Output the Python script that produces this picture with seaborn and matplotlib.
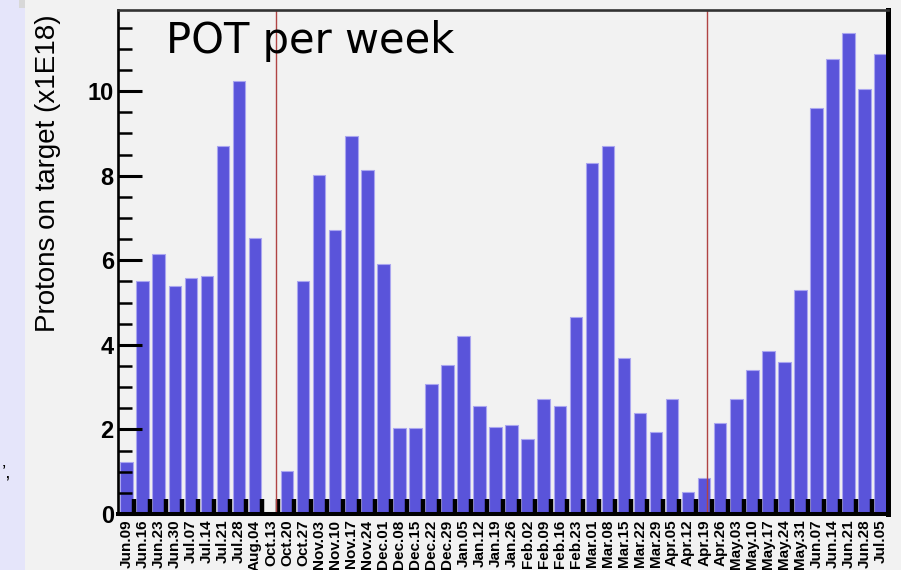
import matplotlib
matplotlib.use("Agg")
import matplotlib.pyplot as plt
from matplotlib.patches import Rectangle
import numpy as np
import pandas as pd
import seaborn as sns

# weekly protons on target
weeks = ["Jun.09", "Jun.16", "Jun.23", "Jun.30", "Jul.07", "Jul.14", "Jul.21", "Jul.28",
         "Aug.04", "Oct.13", "Oct.20", "Oct.27", "Nov.03", "Nov.10", "Nov.17", "Nov.24",
         "Dec.01", "Dec.08", "Dec.15", "Dec.22", "Dec.29", "Jan.05", "Jan.12", "Jan.19",
         "Jan.26", "Feb.02", "Feb.09", "Feb.16", "Feb.23", "Mar.01", "Mar.08", "Mar.15",
         "Mar.22", "Mar.29", "Apr.05", "Apr.12", "Apr.19", "Apr.26", "May.03", "May.10",
         "May.17", "May.24", "May.31", "Jun.07", "Jun.14", "Jun.21", "Jun.28", "Jul.05"]
pot = [1.24, 5.52, 6.14, 5.40, 5.57, 5.63, 8.70, 10.24,
       6.53, 0.0, 1.02, 5.51, 8.01, 6.71, 8.93, 8.13,
       5.91, 2.04, 2.04, 3.07, 3.52, 4.21, 2.56, 2.05,
       2.10, 1.77, 2.73, 2.56, 4.66, 8.31, 8.70, 3.70,
       2.39, 1.93, 2.73, 0.51, 0.85, 2.16, 2.73, 3.40,
       3.86, 3.59, 5.29, 9.61, 10.75, 11.38, 10.06, 10.87]
# red markers, in bin units from the first bin edge
markers = [9.83, 36.70]

BG = "#f2f2f2"
BAR = "#5a54da"
BAR_EDGE = "#aaa6f0"
OFFSET = 0.54  # bar centre sits this far into its bin

df = pd.DataFrame({"week": weeks, "pot": pot})

sns.set_style("ticks")
plt.rcParams["font.family"] = ["Liberation Sans", "DejaVu Sans"]
plt.rcParams["text.color"] = "black"
plt.rcParams["xtick.color"] = "black"
plt.rcParams["ytick.color"] = "black"
plt.rcParams["axes.edgecolor"] = "black"

fig = plt.figure(figsize=(9.01, 5.70), dpi=100)
fig.patch.set_facecolor(BG)
fig.patches.append(Rectangle((0, 0), 25 / 901, 1, transform=fig.transFigure,
                             facecolor="#e5e5fa", edgecolor="none", zorder=-1))
fig.patches.append(Rectangle((19 / 901, 1 - 8 / 570), 6 / 901, 8 / 570,
                             transform=fig.transFigure, facecolor="#d8d8d8",
                             edgecolor="none", zorder=-1))

ax = fig.add_axes([118 / 901, 1 - 514 / 570, 770 / 901, 504 / 570])
ax.set_facecolor(BG)
ax.set_axisbelow(False)

sns.barplot(data=df, x="week", y="pot", color=BAR, saturation=1, width=0.78,
            edgecolor=BAR_EDGE, linewidth=0.8, ax=ax, zorder=2)

n = len(weeks)
ax.set_xlim(-OFFSET, n - OFFSET)
ax.set_ylim(0, 11.92)

for m in markers:
    ax.axvline(m - OFFSET, color="#b04444", lw=1.0, zorder=3)

# bin edge ticks along the bottom
edges = np.arange(1, n) - OFFSET
ax.set_xticks(edges, minor=True)
ax.set_xticks(np.arange(n))
ax.set_xticklabels(weeks, rotation=90, fontsize=11, fontweight="bold", va="top")
ax.tick_params(axis="x", which="major", length=0, pad=4)
ax.tick_params(axis="x", which="minor", direction="in", length=11, width=3.2,
               color="black")

ax.set_yticks(np.arange(0, 11, 2))
ax.set_yticks(np.arange(0, 12, 0.5), minor=True)
ax.tick_params(axis="y", which="major", direction="in", length=17, width=2.2,
               labelsize=17, pad=3)
ax.tick_params(axis="y", which="minor", direction="in", length=10, width=1.8)
for lab in ax.get_yticklabels():
    lab.set_fontweight("bold")

ax.set_xlabel("")
ax.set_ylabel("")

ax.spines["left"].set_linewidth(1.9)
ax.spines["top"].set_linewidth(1.9)
ax.spines["top"].set_color("#333333")
ax.spines["right"].set_linewidth(3.6)
ax.spines["bottom"].set_linewidth(2.9)
for s in ax.spines.values():
    s.set_zorder(4)

fig.text(48 / 901, 1 - 173 / 570, "Protons on target (x1E18)", rotation=90,
         ha="center", va="center", fontsize=20)
fig.text(166 / 901, 1 - 53 / 570, "POT per week", fontsize=30,
         family="DejaVu Sans", ha="left", va="baseline")
fig.text(2 / 901, 1 - 478 / 570, "\u2019,", fontsize=14, ha="left", va="baseline")

fig.savefig("out.png", dpi=100, facecolor=fig.get_facecolor())
